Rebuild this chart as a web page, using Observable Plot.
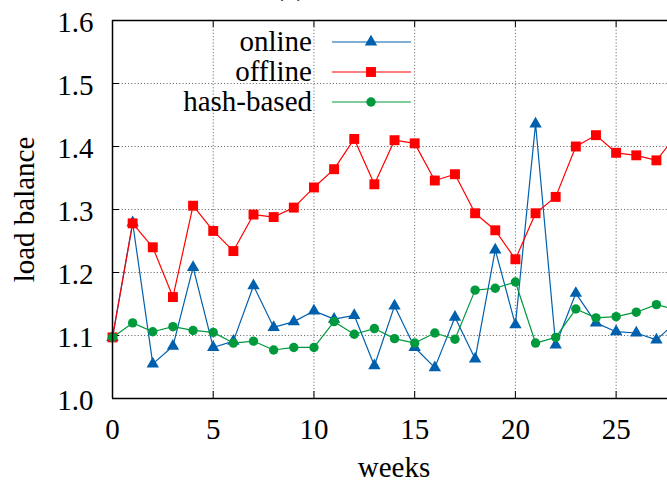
<!DOCTYPE html>
<html>
<head>
<meta charset="utf-8">
<script src="https://cdn.jsdelivr.net/npm/d3@7"></script>
<script src="https://cdn.jsdelivr.net/npm/@observablehq/plot@0.6"></script>
<style>
  body { margin: 0; background: #fff; }
  #chart { width: 667px; height: 491px; overflow: hidden; }
  #chart svg, #chart svg text { font-family: "Liberation Serif", "Times New Roman", serif !important; }
</style>
</head>
<body>
<div id="chart"></div>
<script>
// Weekly load balance of three partitioning strategies
const weeks = [0, 1, 2, 3, 4, 5, 6, 7, 8, 9, 10, 11, 12, 13, 14, 15, 16, 17, 18, 19, 20, 21, 22, 23, 24, 25, 26, 27, 28];
const online = [1.097, 1.279, 1.055, 1.083, 1.208, 1.081, 1.091, 1.179, 1.113, 1.122, 1.139, 1.126, 1.132, 1.052, 1.147, 1.081, 1.049, 1.129, 1.063, 1.236, 1.117, 1.436, 1.085, 1.167, 1.120, 1.106, 1.104, 1.093, 1.122];
const offline = [1.097, 1.278, 1.240, 1.161, 1.306, 1.266, 1.234, 1.292, 1.288, 1.303, 1.335, 1.364, 1.412, 1.340, 1.410, 1.405, 1.346, 1.356, 1.294, 1.267, 1.221, 1.294, 1.320, 1.400, 1.418, 1.390, 1.386, 1.378, 1.418];
const hashBased = [1.097, 1.120, 1.106, 1.114, 1.108, 1.105, 1.088, 1.091, 1.077, 1.081, 1.081, 1.122, 1.102, 1.111, 1.095, 1.088, 1.104, 1.094, 1.172, 1.175, 1.185, 1.088, 1.097, 1.142, 1.128, 1.130, 1.137, 1.149, 1.141];

const seriesNames = ["online", "offline", "hash-based"];
const seriesColors = ["#0060ad", "#ff0000", "#009a3c"];
const seriesSymbols = ["triangle", "square", "circle"];
const seriesRadius = [4.6, 5.6, 4.7];

const xTicks = [0, 5, 10, 15, 20, 25];
const yTicks = [1.0, 1.1, 1.2, 1.3, 1.4, 1.5, 1.6];
const xMax = 27.55;

const FONT = "'Liberation Serif', 'Times New Roman', serif";
const W = 667, H = 491;
const M = {top: 20, right: 0, bottom: 93, left: 112};
const frameW = W - M.left - M.right;
const frameH = H - M.top - M.bottom;

const series = [online, offline, hashBased].map((vals, i) => ({
  name: seriesNames[i],
  color: seriesColors[i],
  symbol: seriesSymbols[i],
  r: seriesRadius[i],
  rows: weeks.map((w, j) => ({week: w, value: vals[j]}))
}));

const marks = [
  Plot.gridX(xTicks.filter(d => d > 0), {stroke: "#000", strokeOpacity: 0.55, strokeDasharray: "1.2,2"}),
  Plot.gridY(yTicks.filter(d => d > 1.0 && d < 1.6), {stroke: "#000", strokeOpacity: 0.55, strokeDasharray: "1.2,2"}),
  // inward tick marks on bottom, top and left edges
  Plot.tickX(xTicks, {x: d => d, insetTop: frameH - 7, stroke: "#000"}),
  Plot.tickX(xTicks, {x: d => d, insetBottom: frameH - 7, stroke: "#000"}),
  Plot.tickY(yTicks, {y: d => d, insetRight: frameW - 7, stroke: "#000"}),
  Plot.axisX(xTicks, {tickSize: 0, tickPadding: 20, label: null, fontFamily: FONT, fontSize: 29}),
  Plot.axisY(yTicks, {tickSize: 0, tickPadding: 19, tickFormat: d3.format(".1f"), label: null, dy: 2, fontFamily: FONT, fontSize: 29}),
  Plot.text(["weeks"], {frameAnchor: "bottom", text: d => d, dy: 78, dx: 4, fontSize: 29, fontFamily: FONT}),
  Plot.text(["load balance"], {frameAnchor: "left", textAnchor: "middle", text: d => d, rotate: -90, dx: -88, dy: 0, fontSize: 29, fontFamily: FONT})
];

for (const s of series) {
  marks.push(Plot.line(s.rows, {x: "week", y: "value", stroke: s.color, strokeWidth: 1.2, clip: true}));
  marks.push(Plot.dot(s.rows.filter(d => d.week <= xMax), {x: "week", y: "value", symbol: s.symbol, r: s.r, fill: s.color, stroke: "none"}));
}

// plot border (left, bottom, top)
marks.push(Plot.ruleX([0], {stroke: "#000", strokeWidth: 1.5}));
marks.push(Plot.ruleY([1.0, 1.6], {stroke: "#000", strokeWidth: 1.5}));

const chart = Plot.plot({
  width: W,
  height: H,
  marginTop: M.top,
  marginRight: M.right,
  marginBottom: M.bottom,
  marginLeft: M.left,
  x: {domain: [0, xMax]},
  y: {domain: [1.0, 1.6]},
  style: {fontFamily: FONT, fontSize: "29px", color: "#000", background: "#fff", overflow: "hidden"},
  marks
});

const svg = d3.select(chart);

// panel caption, mostly above the top edge
svg.append("text")
  .attr("x", 290).attr("y", -5)
  .attr("text-anchor", "middle")
  .attr("font-size", 29)
  .attr("font-family", FONT)
  .text("(a)");

// legend inside the plot area
const legend = svg.append("g");
series.forEach((s, i) => {
  const cy = 42 + i * 30;
  const g = legend.append("g");
  g.append("text")
    .attr("x", 312).attr("y", cy).attr("dy", "0.32em")
    .attr("text-anchor", "end")
    .attr("font-size", 29)
    .attr("font-family", FONT)
    .text(s.name);
  g.append("line")
    .attr("x1", 332).attr("x2", 411).attr("y1", cy).attr("y2", cy)
    .attr("stroke", s.color).attr("stroke-width", 1.2);
  const sym = {triangle: d3.symbolTriangle, square: d3.symbolSquare, circle: d3.symbolCircle}[s.symbol];
  g.append("path")
    .attr("transform", `translate(371,${cy})`)
    .attr("d", d3.symbol(sym, Math.PI * s.r * s.r)())
    .attr("fill", s.color);
});

document.getElementById("chart").append(chart);
</script>
</body>
</html>
